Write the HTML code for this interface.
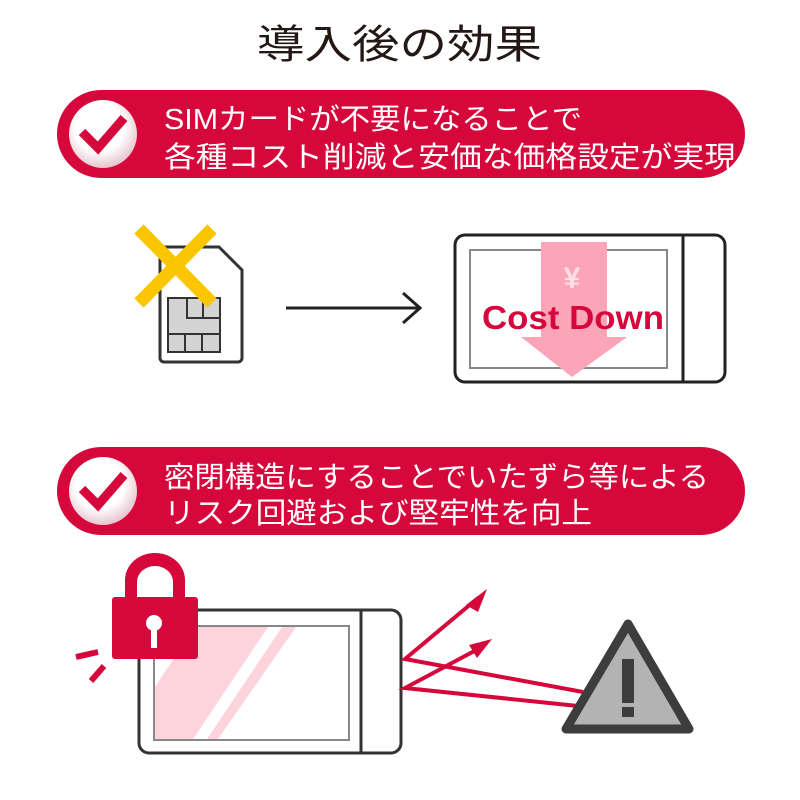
<!DOCTYPE html>
<html><head><meta charset="utf-8"><style>
html,body{margin:0;padding:0;background:#fff;}
svg{display:block;}
text{font-family:"Liberation Sans","Noto Sans CJK JP",sans-serif;}
</style></head><body>
<svg width="800" height="800" viewBox="0 0 800 800" xmlns="http://www.w3.org/2000/svg">
<defs>
<radialGradient id="cg" cx="0.45" cy="0.4" r="0.6">
<stop offset="0.6" stop-color="#fff"/><stop offset="1" stop-color="#e6c6cf"/>
</radialGradient>
</defs>
<text x="257" y="58" font-size="40" fill="#231815" textLength="285" lengthAdjust="spacingAndGlyphs">導入後の効果</text>

<!-- banner 1 -->
<rect x="57" y="90" width="688" height="88" rx="44" fill="#d6083b"/>
<circle cx="103" cy="134" r="34" fill="url(#cg)"/>
<path d="M82 132 L98 148 L124 118" fill="none" stroke="#d6083b" stroke-width="9"/>
<text x="164" y="129" font-size="29" fill="#fff" textLength="418" lengthAdjust="spacingAndGlyphs">SIMカードが不要になることで</text>
<text x="164" y="167" font-size="29" fill="#fff" textLength="572" lengthAdjust="spacingAndGlyphs">各種コスト削減と安価な価格設定が実現</text>

<!-- SIM -->
<path d="M164 247 H219 L242 270 V358 a4 4 0 0 1 -4 4 H164 a4 4 0 0 1 -4 -4 V251 a4 4 0 0 1 4 -4z" fill="#fff" stroke="#333" stroke-width="3"/>
<rect x="168" y="298" width="52" height="54" fill="#d3d3d3" stroke="#333" stroke-width="2"/>
<path d="M187 298 V318 H220 M203 298 V318 M168 334 H220 M185 334 V352 M202 334 V352" fill="none" stroke="#333" stroke-width="2"/>
<path d="M139 229 L212 303 M212 229 L139 303" stroke="#fbc600" stroke-width="13"/>

<!-- arrow -->
<path d="M286 308 H421 M403 293 L420 308 L403 323" fill="none" stroke="#222" stroke-width="3"/>

<!-- card 1 -->
<rect x="455" y="235" width="270" height="147" rx="10" fill="#fff" stroke="#222" stroke-width="3"/>
<line x1="683" y1="235" x2="683" y2="382" stroke="#222" stroke-width="3"/>
<rect x="470" y="250" width="197" height="118" fill="none" stroke="#888" stroke-width="2"/>
<path d="M541 242 H607 V337 H627 L572 377 L521 337 H541Z" fill="#fca4b8"/>
<text x="572" y="288" font-size="30" font-weight="bold" fill="#fde0e6" text-anchor="middle">¥</text>
<text x="482" y="329" font-size="33" font-weight="bold" fill="#d6083b" textLength="182" lengthAdjust="spacingAndGlyphs">Cost Down</text>

<!-- banner 2 -->
<rect x="57" y="447" width="688" height="88" rx="44" fill="#d6083b"/>
<circle cx="103" cy="491" r="34" fill="url(#cg)"/>
<path d="M82 489 L98 505 L124 475" fill="none" stroke="#d6083b" stroke-width="9"/>
<text x="164" y="487" font-size="29" fill="#fff" textLength="545" lengthAdjust="spacingAndGlyphs">密閉構造にすることでいたずら等による</text>
<text x="164" y="523" font-size="29" fill="#fff" textLength="428" lengthAdjust="spacingAndGlyphs">リスク回避および堅牢性を向上</text>

<!-- card 2 -->
<rect x="139" y="610" width="262" height="143" rx="10" fill="#fff" stroke="#333" stroke-width="3"/>
<line x1="361" y1="610" x2="361" y2="753" stroke="#333" stroke-width="3"/>
<rect x="154" y="626" width="195" height="114" fill="none" stroke="#888" stroke-width="2"/>
<polygon points="195,627 268,627 193,739 155,739 155,687" fill="#fdd3dc"/>
<polygon points="282,627 296,627 218,739 207,739" fill="#fdd3dc"/>

<!-- lock -->
<path d="M125 598 V580 a30 27 0 0 1 60 0 V598 H173 V582 a18 16 0 0 0 -36 0 V598Z" fill="#d6083b"/>
<rect x="112" y="597" width="86" height="62" rx="3" fill="#d6083b"/>
<circle cx="154" cy="623" r="8" fill="#fff"/>
<rect x="151" y="625" width="6" height="23" fill="#fff"/>
<path d="M76 657 L98 652 M91 681 L104 666" stroke="#d6083b" stroke-width="6"/>

<!-- arrows -->
<g stroke="#d6083b" stroke-width="4" fill="none">
<path d="M583 692 L405 659 L478 598"/>
<path d="M578 706 L405 688 L480 648"/>
</g>
<polygon points="487,589 466,605 478,612" fill="#d6083b"/>
<polygon points="492,639 469,645 477,658" fill="#d6083b"/>

<!-- warning -->
<path d="M628 624 L689 729 H566 Z" fill="#b3b3b3" stroke="#3d3d3d" stroke-width="9" stroke-linejoin="round"/>
<rect x="622" y="659" width="12" height="44" fill="#3d3d3d"/>
<rect x="622" y="707" width="12" height="10" fill="#3d3d3d"/>
</svg>
</body></html>
